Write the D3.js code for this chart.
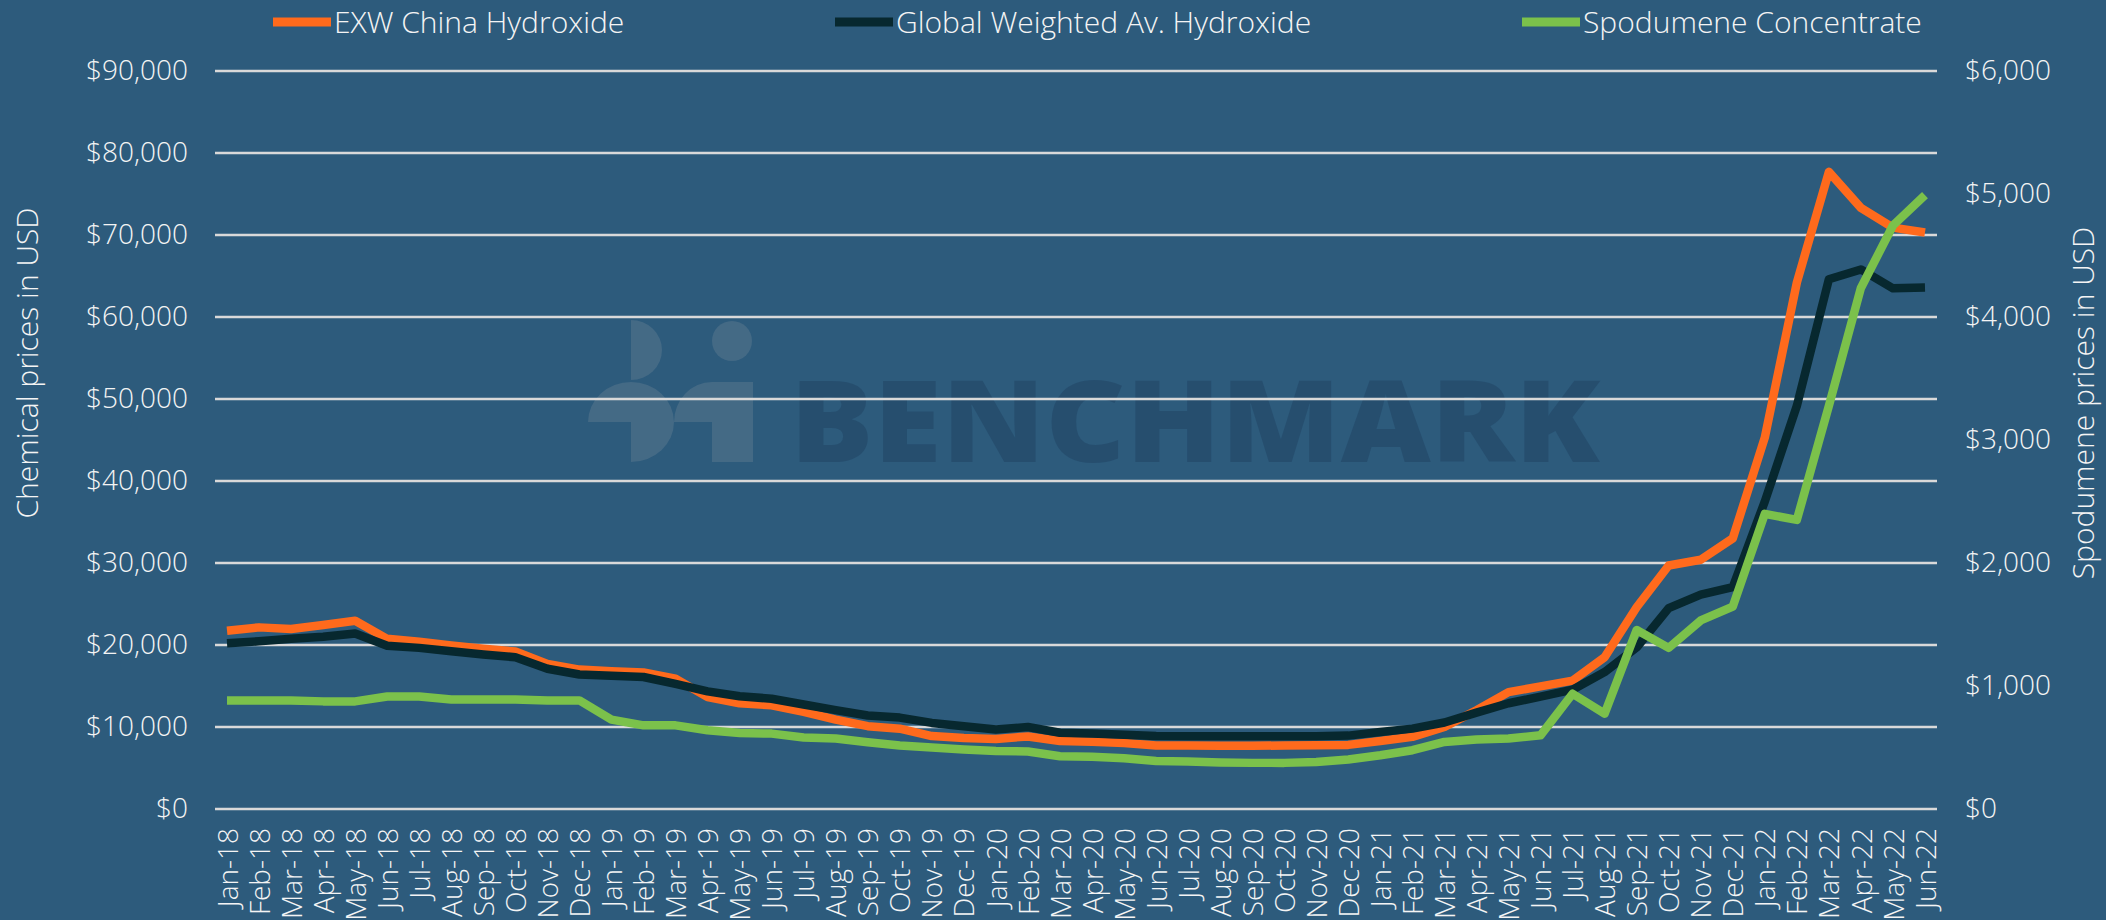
<!DOCTYPE html>
<html>
<head>
<meta charset="utf-8">
<script src="https://cdn.jsdelivr.net/npm/d3@7"></script>
<style>
  body { margin: 0; background: #2d5b7c; }
  svg { display: block; font-family: "Open Sans", "Noto Sans", sans-serif; }
  .tick text { fill: #f4f4f4; font-weight: 300; }
</style>
</head>
<body>
<svg id="chart" width="2106" height="920"></svg>
<script>
// months Jan-18 .. Jun-22
const months = ['Jan-18','Feb-18','Mar-18','Apr-18','May-18','Jun-18','Jul-18','Aug-18','Sep-18','Oct-18','Nov-18','Dec-18',
  'Jan-19','Feb-19','Mar-19','Apr-19','May-19','Jun-19','Jul-19','Aug-19','Sep-19','Oct-19','Nov-19','Dec-19',
  'Jan-20','Feb-20','Mar-20','Apr-20','May-20','Jun-20','Jul-20','Aug-20','Sep-20','Oct-20','Nov-20','Dec-20',
  'Jan-21','Feb-21','Mar-21','Apr-21','May-21','Jun-21','Jul-21','Aug-21','Sep-21','Oct-21','Nov-21','Dec-21',
  'Jan-22','Feb-22','Mar-22','Apr-22','May-22','Jun-22'];

// USD/t, left axis
const exwChina = [21750,22150,21950,22450,22950,20750,20400,19950,19550,19200,17700,17000,
  16800,16650,15900,13650,12900,12650,11850,10900,10100,9800,8900,8650,
  8550,8850,8300,8200,8050,7750,7750,7700,7700,7750,7780,7820,
  8300,8800,10000,12050,14250,14950,15650,18500,24600,29700,30400,33000,
  45300,64200,77700,73300,70900,70300];

const globalWeighted = [20200,20450,20750,21000,21400,19900,19650,19250,18850,18500,17100,16400,
  16250,16100,15250,14350,13750,13450,12750,12050,11400,11150,10500,10100,
  9700,10000,9300,9200,9050,8900,8870,8870,8870,8870,8870,8950,
  9400,9800,10550,11750,12900,13700,14550,16700,19700,24500,26150,27050,
  37500,49150,64600,65800,63500,63600];

// USD/t, right axis
const spodumene = [883,883,883,875,875,915,915,891,891,891,883,883,
  727,680,680,640,618,613,581,573,543,516,500,484,
  472,467,429,424,413,391,386,378,375,375,383,403,
  437,478,545,565,573,599,937,775,1455,1310,1533,1645,
  2400,2350,3277,4236,4744,4991];

const leftTicks = [0,10000,20000,30000,40000,50000,60000,70000,80000,90000];
const rightTicks = [0,1000,2000,3000,4000,5000,6000];

const series = [
  {name: 'EXW China Hydroxide', values: exwChina, axis: 'left', color: '#ff6a1c'},
  {name: 'Global Weighted Av. Hydroxide', values: globalWeighted, axis: 'left', color: '#07282f'},
  {name: 'Spodumene Concentrate', values: spodumene, axis: 'right', color: '#7bc14b'}
];

const svg = d3.select('#chart');
const plotLeft = 215, plotRight = 1937, plotTop = 71, plotBottom = 809;

const x = d3.scalePoint().domain(months).range([plotLeft, plotRight]).padding(0.375);
const yL = d3.scaleLinear().domain([0, 90000]).range([plotBottom, plotTop]);
const yR = d3.scaleLinear().domain([0, 6000]).range([plotBottom, plotTop]);

svg.append('rect').attr('width', 2106).attr('height', 920).attr('fill', '#2d5b7c');

// watermark
const wm = svg.append('g');
const logoFill = 'rgba(150,160,170,0.22)';
wm.append('circle').attr('cx', 732).attr('cy', 341).attr('r', 20).attr('fill', logoFill);
wm.append('path').attr('d', 'M631,320 A31,30 0 0 1 631,380 Z').attr('fill', logoFill);
wm.append('path').attr('d', 'M588,422 A43,40 0 0 1 631,382 L631,422 Z').attr('fill', logoFill);
wm.append('path').attr('d', 'M631,382 A43,40 0 0 1 631,462 Z').attr('fill', logoFill);
wm.append('path').attr('d', 'M674,422 A38,40 0 0 1 712,382 L753,382 L753,462 L712,462 L712,422 Z').attr('fill', logoFill);
wm.append('text')
  .attr('x', 790).attr('y', 462)
  .attr('textLength', 810).attr('lengthAdjust', 'spacingAndGlyphs')
  .style('font-family', '"Open Sans", "DejaVu Sans", sans-serif')
  .style('font-weight', 800).style('font-size', '114px')
  .attr('fill', 'rgba(25,55,85,0.35)')
  .text('BENCHMARK');

// grid
svg.append('g').selectAll('line')
  .data(leftTicks)
  .join('line')
  .attr('x1', plotLeft).attr('x2', plotRight)
  .attr('y1', d => yL(d)).attr('y2', d => yL(d))
  .attr('stroke', '#d9d9d9').attr('stroke-width', 2.5);

// axes
const fmt = d3.format('$,');
const gL = svg.append('g').attr('transform', `translate(${plotLeft - 27},0)`)
  .call(d3.axisLeft(yL).tickValues(leftTicks).tickFormat(fmt).tickSize(0).tickPadding(0));
const gR = svg.append('g').attr('transform', `translate(${plotRight + 28},0)`)
  .call(d3.axisRight(yR).tickValues(rightTicks).tickFormat(fmt).tickSize(0).tickPadding(0));
const gX = svg.append('g').attr('transform', `translate(0,${plotBottom})`)
  .call(d3.axisBottom(x).tickSize(0));
[gL, gR, gX].forEach(g => {
  g.select('.domain').remove();
  g.selectAll('text').style('font-size', '28px').style('font-family', '"Open Sans", sans-serif');
});
gX.selectAll('text')
  .attr('transform', 'rotate(-90)')
  .attr('x', -19).attr('y', 0).attr('dy', '0.36em')
  .style('text-anchor', 'end')
  .style('font-size', '28px');

// axis titles
svg.append('text')
  .attr('transform', 'translate(38,363) rotate(-90)')
  .attr('text-anchor', 'middle')
  .style('font-size', '30px').style('font-weight', 300)
  .attr('fill', '#f4f4f4')
  .text('Chemical prices in USD');
svg.append('text')
  .attr('transform', 'translate(2094,403) rotate(-90)')
  .attr('text-anchor', 'middle')
  .style('font-size', '30px').style('font-weight', 300)
  .attr('fill', '#f4f4f4')
  .text('Spodumene prices in USD');

// lines
series.forEach(s => {
  const y = s.axis === 'left' ? yL : yR;
  const line = d3.line()
    .x((d, i) => x(months[i]))
    .y(d => y(d));
  svg.append('path')
    .datum(s.values)
    .attr('d', line)
    .attr('fill', 'none')
    .attr('stroke', s.color)
    .attr('stroke-width', 8.5)
    .attr('stroke-linejoin', 'round');
});

// legend
const legendX = [273, 835, 1522];
const legend = svg.append('g').selectAll('g')
  .data(series)
  .join('g')
  .attr('transform', (d, i) => `translate(${legendX[i]},22)`);
legend.append('rect')
  .attr('x', 0).attr('y', -4.5).attr('width', 58).attr('height', 9)
  .attr('fill', d => d.color);
legend.append('text')
  .attr('x', 61).attr('y', 0).attr('dy', '0.35em')
  .style('font-size', '30px').style('font-weight', 300)
  .attr('fill', '#f4f4f4')
  .text(d => d.name);
</script>
</body>
</html>
